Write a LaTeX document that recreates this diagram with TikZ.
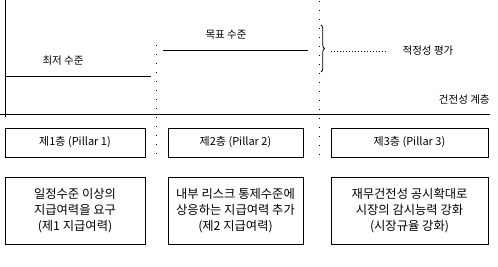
\documentclass[tikz,border=0pt]{standalone}
\usepackage{fontspec}
\setmainfont{Noto Sans CJK KR}
\usetikzlibrary{decorations.pathreplacing}
\def\rowA{142.5}
\def\rowB{210.5}
\tikzset{
  pillarbox/.style={draw,line width=0.8pt,inner sep=0pt,align=center,minimum height=29pt,font=\fontsize{11}{15}\selectfont},
  notebox/.style={pillarbox,minimum height=67pt,font=\fontsize{12.3}{16}\selectfont},
  levellabel/.style={font=\fontsize{10.5}{12}\selectfont,inner sep=0pt},
  sparse/.style={line width=0.8pt,dash pattern=on 0.8pt off 8.2pt},
  dense/.style={line width=0.8pt,dash pattern=on 0.8pt off 2.2pt}
}
\begin{document}
\begin{tikzpicture}[x=1pt,y=-1pt,line width=0.8pt]
  \useasboundingbox (0,0) rectangle (498,267);
  % axes
  \coordinate (ytop) at (5,0);
  \coordinate (ybot) at (5,117);
  \draw (ytop) -- (ybot);
  \coordinate (gl) at (0,114);
  \coordinate (gr) at (490,114);
  \draw (gl) -- (gr);
  \node[levellabel,anchor=east] (sound) at (490,100) {건전성 계층};
  % levels
  \coordinate (minl) at (5,76);
  \coordinate (minr) at (151,76);
  \draw (minl) -- (minr);
  \node[levellabel] (minlab) at (63,61) {최저 수준};
  \coordinate (tgtl) at (163,50);
  \coordinate (tgtr) at (308,50);
  \draw (tgtl) -- (tgtr);
  \node[levellabel] (tgtlab) at (226,35) {목표 수준};
  % separators
  \draw[sparse] (156,45) -- (156,157);
  \draw[sparse] (319,1) -- (319,157);
  % adequacy
  \draw[decorate,decoration={brace,amplitude=3.5pt}] (321,25) -- (321,72);
  \node[levellabel] (adq) at (428,51) {적정성 평가};
  \coordinate (adqs) at (331,51);
  \draw[dense] (adqs) -- (386,51);
  % pillars
  \foreach \cx/\w/\k in {75/140/1, 235.5/135/2, 409.5/157/3}
    \node[pillarbox,minimum width=\w pt] (p\k) at (\cx,\rowA) {제{\k}층 (Pillar {\k})};
  \node[notebox,minimum width=140pt] (d1) at (75,\rowB) {일정수준 이상의\\지급여력을 요구\\(제1 지급여력)};
  \node[notebox,minimum width=135pt] (d2) at (235.5,\rowB) {내부 리스크 통제수준에\\상응하는 지급여력 추가\\(제2 지급여력)};
  \node[notebox,minimum width=157pt] (d3) at (409.5,\rowB) {재무건전성 공시확대로\\시장의 감시능력 강화\\(시장규율 강화)};
\end{tikzpicture}
\end{document}
